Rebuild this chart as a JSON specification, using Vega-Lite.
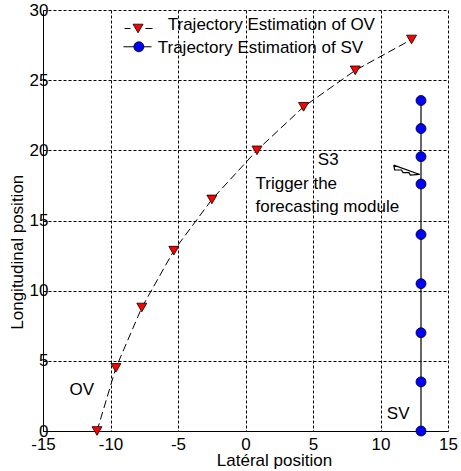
{
  "$schema": "https://vega.github.io/schema/vega-lite/v6.json",
  "width": 405,
  "height": 421,
  "autosize": "none",
  "padding": {"left": 43, "top": 10, "right": 13, "bottom": 40},
  "background": "white",
  "config": {
    "view": {"stroke": null},
    "font": "Liberation Sans",
    "axis": {
      "labelFont": "Liberation Sans",
      "titleFont": "Liberation Sans",
      "labelFontSize": 17,
      "titleFontSize": 17,
      "titleFontWeight": "normal",
      "labelColor": "#000",
      "titleColor": "#000",
      "domainColor": "#000",
      "domainWidth": 1,
      "ticks": false,
      "gridColor": "#000",
      "gridOpacity": 1,
      "gridDash": [3, 2],
      "gridWidth": 1,
      "labelFlush": false,
      "labelOverlap": false
    }
  },
  "layer": [
    {
      "data": {"values": [
        {"x": -11.0, "y": 0.0},
        {"x": -9.6, "y": 4.5},
        {"x": -7.68, "y": 8.8},
        {"x": -5.31, "y": 12.85},
        {"x": -2.49, "y": 16.5},
        {"x": 0.85, "y": 20.0},
        {"x": 4.3, "y": 23.1},
        {"x": 8.13, "y": 25.7},
        {"x": 12.3, "y": 27.9}
      ]},
      "mark": {"type": "line", "color": "#000", "strokeWidth": 1, "strokeDash": [8, 4]},
      "encoding": {
        "x": {"field": "x", "type": "quantitative", "scale": {"domain": [-15, 15], "nice": false, "zero": false},
          "axis": {"values": [-15, -10, -5, 0, 5, 10, 15], "labelExpr": "toString(datum.value)", "title": "Latéral position", "labelPadding": 18, "labelBaseline": "alphabetic", "titleX": 231, "titleY": 34, "titleAnchor": "start", "titleAlign": "center", "titleBaseline": "alphabetic"}},
        "y": {"field": "y", "type": "quantitative", "scale": {"domain": [0, 30], "nice": false, "zero": false},
          "axis": {"values": [0, 5, 10, 15, 20, 25, 30], "labelExpr": "toString(datum.value)", "title": "Longitudinal position", "labelPadding": -5, "labelBaseline": "middle", "titleX": -20.5, "titleY": 241.7, "titleAngle": -90, "titleAnchor": "start", "titleAlign": "center", "titleBaseline": "alphabetic"}},
        "order": {"field": "y", "type": "quantitative"}
      }
    },
    {
      "data": {"values": [
        {"x": -11.0, "y": 0.0},
        {"x": -9.6, "y": 4.5},
        {"x": -7.68, "y": 8.8},
        {"x": -5.31, "y": 12.85},
        {"x": -2.49, "y": 16.5},
        {"x": 0.85, "y": 20.0},
        {"x": 4.3, "y": 23.1},
        {"x": 8.13, "y": 25.7},
        {"x": 12.3, "y": 27.9},
        {"x": -7.96, "y": 28.68}
      ]},
      "mark": {"type": "point", "shape": "triangle-down", "filled": true, "fill": "#ff0000", "stroke": "#000", "strokeWidth": 0.8, "size": 100, "opacity": 1},
      "encoding": {
        "x": {"field": "x", "type": "quantitative"},
        "y": {"field": "y", "type": "quantitative"}
      }
    },
    {
      "data": {"values": [
        {"x": 13, "y": 0},
        {"x": 13, "y": 23.55}
      ]},
      "mark": {"type": "line", "color": "#000", "strokeWidth": 1.2},
      "encoding": {
        "x": {"field": "x", "type": "quantitative"},
        "y": {"field": "y", "type": "quantitative"}
      }
    },
    {
      "data": {"values": [
        {"seg": "a", "x": -8.96, "x2": -8.52, "y": 28.68},
        {"seg": "b", "x": -7.41, "x2": -6.89, "y": 28.68},
        {"seg": "c", "x": -9.04, "x2": -6.96, "y": 27.38}
      ]},
      "mark": {"type": "rule", "color": "#000", "strokeWidth": 1},
      "encoding": {
        "x": {"field": "x", "type": "quantitative"},
        "x2": {"field": "x2"},
        "y": {"field": "y", "type": "quantitative"}
      }
    },
    {
      "data": {"values": [
        {"x": 13, "y": 0},
        {"x": 13, "y": 3.5},
        {"x": 13, "y": 7.0},
        {"x": 13, "y": 10.5},
        {"x": 13, "y": 14.0},
        {"x": 13, "y": 17.6},
        {"x": 13, "y": 19.55},
        {"x": 13, "y": 21.55},
        {"x": 13, "y": 23.55},
        {"x": -7.9, "y": 27.38}
      ]},
      "mark": {"type": "point", "shape": "circle", "filled": true, "fill": "#0000ff", "stroke": "#000", "strokeWidth": 0.8, "size": 100, "opacity": 1},
      "encoding": {
        "x": {"field": "x", "type": "quantitative"},
        "y": {"field": "y", "type": "quantitative"}
      }
    },
    {
      "data": {"values": [
        {"i": 0, "x": 10.98, "y": 18.95},
        {"i": 1, "x": 12.9, "y": 18.28},
        {"i": 2, "x": 12.21, "y": 18.24},
        {"i": 3, "x": 12.11, "y": 18.41},
        {"i": 4, "x": 11.67, "y": 18.41},
        {"i": 5, "x": 11.55, "y": 18.6},
        {"i": 6, "x": 11.05, "y": 18.6},
        {"i": 7, "x": 10.98, "y": 18.95}
      ]},
      "mark": {"type": "line", "color": "#000", "strokeWidth": 1.2},
      "encoding": {
        "x": {"field": "x", "type": "quantitative"},
        "y": {"field": "y", "type": "quantitative"},
        "order": {"field": "i", "type": "quantitative"}
      }
    },
    {
      "data": {"values": [
        {"x": 5.36, "y": 18.94, "t": "S3"},
        {"x": 0.74, "y": 17.26, "t": "Trigger the"},
        {"x": 0.74, "y": 15.6, "t": "forecasting module"},
        {"x": -13.04, "y": 2.6, "t": "OV"},
        {"x": 10.47, "y": 0.89, "t": "SV"},
        {"x": -5.76, "y": 28.58, "t": "Trajectory Estimation of OV"},
        {"x": -6.5, "y": 26.94, "t": "Trajectory Estimation of SV"}
      ]},
      "mark": {"type": "text", "align": "left", "baseline": "alphabetic", "font": "Liberation Sans", "fontSize": 17, "color": "#000"},
      "encoding": {
        "x": {"field": "x", "type": "quantitative"},
        "y": {"field": "y", "type": "quantitative"},
        "text": {"field": "t"}
      }
    }
  ]
}
